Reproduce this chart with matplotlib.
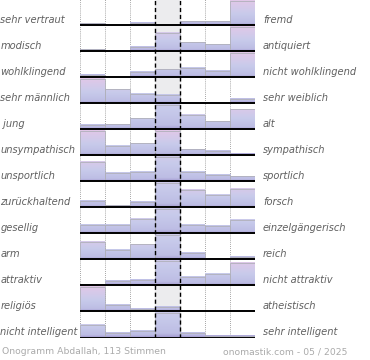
import numpy as np
import matplotlib.pyplot as plt
from matplotlib.colors import LinearSegmentedColormap
from matplotlib.patches import Rectangle
from matplotlib.transforms import blended_transform_factory

# Gegensatzpaare (links / rechts)
links = ["sehr vertraut", "modisch", "wohlklingend", "sehr männlich", " jung",
         "unsympathisch", "unsportlich", "zurückhaltend", "gesellig", "arm",
         "attraktiv", "religiös", "nicht intelligent"]
rechts = ["fremd", "antiquiert", "nicht wohlklingend", "sehr weiblich", "alt",
          "sympathisch", "sportlich", "forsch", "einzelgängerisch", "reich",
          "nicht attraktiv", "atheistisch", "sehr intelligent"]

# relative Balkenhoehen je Stufe (1.0 = volle Zeile, >1 wird abgeschnitten)
werte = [
    [0.07, 0.00, 0.10, 0.00, 0.15, 0.15, 1.00],
    [0.08, 0.01, 0.17, 0.75, 0.37, 0.29, 1.00],
    [0.10, 0.00, 0.21, 0.33, 0.40, 0.26, 1.00],
    [1.00, 0.58, 0.40, 0.35, 0.04, 0.00, 0.17],
    [0.18, 0.20, 0.45, 1.80, 0.60, 0.33, 0.82],
    [1.00, 0.39, 0.49, 1.00, 0.24, 0.18, 0.05],
    [0.80, 0.35, 0.40, 1.60, 0.39, 0.26, 0.20],
    [0.26, 0.08, 0.22, 1.70, 0.74, 0.53, 0.78],
    [0.36, 0.36, 0.61, 1.70, 0.36, 0.32, 0.55],
    [0.74, 0.40, 0.62, 1.70, 0.25, 0.03, 0.11],
    [0.01, 0.17, 0.21, 1.70, 0.36, 0.46, 0.92],
    [1.00, 0.28, 0.12, 0.20, 0.00, 0.00, 0.02],
    [0.54, 0.17, 0.29, 1.80, 0.17, 0.05, 0.05],
]
fusszeile_links = "Onogramm Abdallah, 113 Stimmen"
fusszeile_rechts = "onomastik.com - 05 / 2025"

n = len(links)
voll = 24.0 / 26.0  # volle Balkenhoehe in Zeilen

farben = LinearSegmentedColormap.from_list(
    "ono", [(0.0, "#a69dd2"), (0.08, "#bdbde4"), (0.45, "#c8cbeb"), (1.0, "#e2c8e8")])

fig = plt.figure(figsize=(3.7, 3.6), dpi=100)
ax = fig.add_axes([80 / 370, 22.5 / 360, 175 / 370, 338.5 / 360])
ax.set_xlim(0, 7)
ax.set_ylim(n, 0)
ax.axis("off")

# mittlere Spalte
ax.axvspan(3, 4, color="#ececee", zorder=0)

for i in range(n):
    basis = i + 1
    for j, v in enumerate(werte[i]):
        if v <= 0:
            continue
        sichtbar = min(v, 1.0)
        grad = np.linspace(0, sichtbar / max(v, 1.0), 60).reshape(-1, 1)
        ax.imshow(grad, cmap=farben, vmin=0, vmax=1, origin="lower",
                  extent=[j, j + 1, basis, basis - sichtbar * voll],
                  aspect="auto", interpolation="bilinear", zorder=2)
        ax.add_patch(Rectangle((j, basis), 1, -sichtbar * voll, fill=False,
                               edgecolor="#b0b0ba", lw=0.6, zorder=3))
    ax.plot([0, 7], [basis, basis], color="k", lw=1.4, zorder=4)

for x in [0, 1, 2, 5, 6, 7]:
    ax.axvline(x, color="#888888", lw=0.6, ls=(0, (1, 1.5)), zorder=1)
for x in [3, 4]:
    ax.axvline(x, color="k", lw=1.0, ls=(0, (3, 2)), zorder=5)

tr = blended_transform_factory(fig.transFigure, ax.transData)
for i in range(n):
    y = i + 1 - 5 / 26
    ax.text(0.5 / 370, y, links[i], transform=tr, ha="left", va="center",
            fontsize=7.1, style="italic", color="#606060")
    ax.text(263 / 370, y, rechts[i], transform=tr, ha="left", va="center",
            fontsize=7.1, style="italic", color="#606060")

fig.text(2 / 370, 1 - 352 / 360, fusszeile_links, ha="left", va="center",
         fontsize=6.7, color="#aaaaaa")
fig.text(347 / 370, 1 - 352 / 360, fusszeile_rechts, ha="right", va="center",
         fontsize=6.7, color="#aaaaaa")

fig.savefig("out.png", dpi=100)
